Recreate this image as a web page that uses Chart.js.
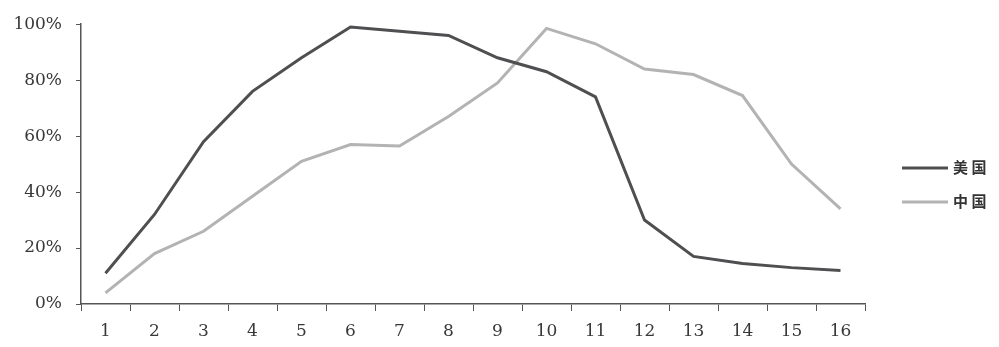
<!DOCTYPE html>
<html>
<head>
<meta charset="utf-8">
<script src="https://cdn.jsdelivr.net/npm/chart.js@4"></script>
<style>
  html, body { margin: 0; padding: 0; background: #fff; }
  #wrap { width: 999px; height: 347px; position: relative; }
</style>
</head>
<body>
<div id="wrap"><canvas id="chart"></canvas></div>
<script>
const categories = ['1', '2', '3', '4', '5', '6', '7', '8', '9', '10', '11', '12', '13', '14', '15', '16'];
const usValues = [11, 32, 58, 76, 88, 99, 97.5, 96, 88, 83, 74, 30, 17, 14.5, 13, 12];
const chinaValues = [4, 18, 26, 38.5, 51, 57, 56.5, 67, 79, 98.5, 93, 84, 82, 74.5, 50, 34];
const yTicks = [0, 20, 40, 60, 80, 100];
const seriesNames = ['美国', '中国'];

const axisColor = '#555';

// legend on the right, drawn by hand so it sits where the original does
const sideLegend = {
    id: 'sideLegend',
    afterDraw(chart) {
        const ctx = chart.ctx;
        const rows = [168, 202];
        ctx.save();
        chart.data.datasets.forEach((ds, i) => {
            const y = rows[i];
            ctx.strokeStyle = ds.borderColor;
            ctx.lineWidth = 3;
            ctx.beginPath();
            ctx.moveTo(902, y);
            ctx.lineTo(948, y);
            ctx.stroke();
            ctx.fillStyle = '#333';
            ctx.font = 'bold 15px "Noto Sans CJK SC"';
            ctx.textBaseline = 'middle';
            ctx.textAlign = 'left';
            ctx.fillText(ds.label.split('').join(' '), 953, y - 1);
        });
        ctx.restore();
    }
};

const ctx = document.getElementById('chart').getContext('2d');
new Chart(ctx, {
    type: 'line',
    data: {
        labels: categories,
        datasets: [{
            label: seriesNames[0],
            data: usValues,
            borderColor: '#4f4f52',
            borderWidth: 3,
            pointRadius: 0,
            tension: 0,
            fill: false
        }, {
            label: seriesNames[1],
            data: chinaValues,
            borderColor: '#b3b3b3',
            borderWidth: 3,
            pointRadius: 0,
            tension: 0,
            fill: false
        }]
    },
    options: {
        responsive: true,
        maintainAspectRatio: false,
        animation: false,
        layout: { padding: { top: 21, right: 134, left: 0, bottom: 0 } },
        plugins: {
            legend: { display: false },
            tooltip: { enabled: false }
        },
        scales: {
            x: {
                offset: true,
                grid: {
                    offset: true,
                    drawOnChartArea: false,
                    drawTicks: true,
                    tickLength: 7,
                    color: axisColor
                },
                border: { display: true, color: axisColor, width: 1.5 },
                ticks: {
                    color: '#383838',
                    padding: 10,
                    maxRotation: 0,
                    font: { family: '"DejaVu Serif"', size: 17 }
                },
                afterFit(scale) { scale.height = 43; }
            },
            y: {
                min: 0,
                max: 100,
                afterBuildTicks(scale) {
                    scale.ticks = yTicks.map(v => ({ value: v }));
                },
                grid: {
                    drawOnChartArea: false,
                    drawTicks: true,
                    tickLength: 5,
                    color: axisColor
                },
                border: { display: true, color: axisColor, width: 1.5 },
                ticks: {
                    color: '#383838',
                    padding: 14,
                    font: { family: '"DejaVu Serif"', size: 17 },
                    callback: v => v + '%'
                },
                afterFit(scale) { scale.width = 81; }
            }
        }
    },
    plugins: [sideLegend]
});
</script>
</body>
</html>
